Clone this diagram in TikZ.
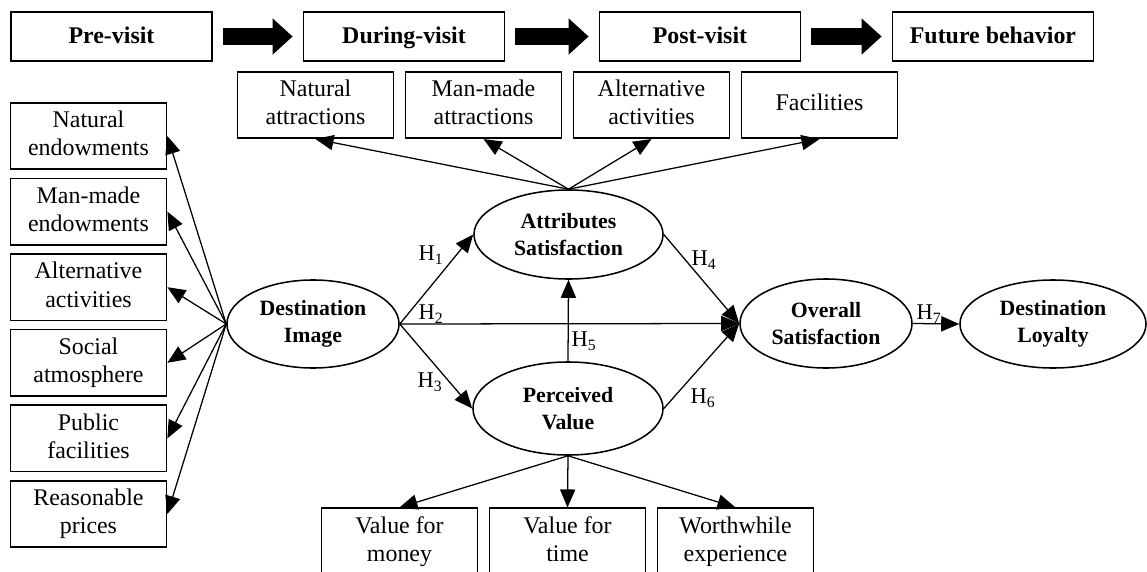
\documentclass[tikz,border=0pt]{standalone}
\usepackage{fontspec}
\setmainfont{Liberation Serif}
\usetikzlibrary{arrows.meta,shapes.geometric}

\tikzset{
	stagebox/.style={draw, line width=1.2pt, minimum width=5.025cm, minimum height=1.225cm, inner sep=0pt, text height=11.5pt, text depth=1pt, font=\fontsize{17}{20}\selectfont\bfseries},
	itembox/.style={draw, line width=1.2pt, minimum width=3.9cm, minimum height=1.66cm, inner sep=0pt, align=center, text depth=3.5pt, font=\fontsize{17}{20}\selectfont},
	construct/.style={draw, ellipse, line width=1.1pt, inner sep=0pt, align=center, font=\fontsize{15.5}{19.6}\selectfont\bfseries},
	link/.style={line width=0.9pt, -{Triangle[length=0.45cm, width=0.38cm]}},
	stagearrow/.style={line width=0.4cm, -{Triangle[length=0.5cm, width=0.875cm]}},
	hyp/.style={inner sep=0pt, font=\fontsize{16}{16}\selectfont},
}

\begin{document}
\begin{tikzpicture}[x=0.025cm, y=-0.025cm]

	\def\stageY{36.5}
	\def\attY{105}
	\def\valY{541.5}
	\def\leftX{88.5}
	\def\dx{168}
	\def\dy{75.6}

	\path[use as bounding box, fill=white] (0,0) rectangle (1147,572);

	% Stages
	\node[stagebox] (pre) at (111.5,\stageY) {Pre-visit};
	\node[stagebox] (during) at (404,\stageY) {During-visit};
	\node[stagebox] (post) at (700,\stageY) {Post-visit};
	\node[stagebox] (future) at (993,\stageY) {Future behavior};

	\foreach \a/\b in {pre/during, during/post, post/future}
		\draw[stagearrow] ([xshift=0.25cm]\a.east) -- ([xshift=-0.25cm]\b.west);

	% Constructs
	\node[construct, minimum width=4.3cm, minimum height=2.2cm] (di) at (313,324) {Destination\\Image};
	\node[construct, minimum width=4.725cm, minimum height=2.225cm] (as) at (568.5,234.5) {Attributes\\Satisfaction};
	\node[construct, minimum width=4.75cm, minimum height=2.325cm] (pv) at (568,408.5) {Perceived\\Value};
	\node[construct, minimum width=4.3cm, minimum height=2.225cm] (os) at (826,323.5) {Overall\\Satisfaction};
	\node[construct, minimum width=4.65cm, minimum height=2.2cm] (dl) at (1053,324) {Destination\\Loyalty};

	% Image items
	\foreach \name/\txt [count=\i from 0] in {natend/{Natural\\endowments}, manend/{Man-made\\endowments},
			altend/{Alternative\\activities}, social/{Social\\atmosphere}, public/{Public\\facilities},
			prices/{Reasonable\\prices}}
	{
		\node[itembox] (\name) at (\leftX, 136 + \i * \dy) {\txt};
		\draw[link] (di.west) -- (\name.east);
	}

	% Attribute items
	\foreach \name/\txt [count=\i from 0] in {natatt/{Natural\\attractions}, manatt/{Man-made\\attractions},
			altatt/{Alternative\\activities}, facil/{Facilities}}
	{
		\node[itembox] (\name) at (315.5 + \i * \dx, \attY) {\txt};
		\draw[link] (as.north) -- (\name.south);
	}

	% Value items
	\foreach \name/\txt [count=\i from 0] in {money/{Value for\\money}, time/{Value for\\time},
			worth/{Worthwhile\\experience}}
	{
		\node[itembox] (\name) at (399.5 + \i * \dx, \valY) {\txt};
		\draw[link] (pv.south) -- (\name.north);
	}

	% Hypotheses
	\draw[link] (di.east) -- (as.west);
	\draw[link] (di.east) -- (os.west);
	\draw[link] (di.east) -- (pv.west);
	\draw[link] (as.east) -- (os.west);
	\draw[link] (pv.north) -- (as.south);
	\draw[link] (pv.east) -- (os.west);
	\draw[link] (os.east) -- (dl.west);

	\node[hyp] (h1) at (431,255) {H\textsubscript{1}};
	\node[hyp] (h2) at (431,314) {H\textsubscript{2}};
	\node[hyp] (h3) at (430,382) {H\textsubscript{3}};
	\node[hyp] (h4) at (704,260) {H\textsubscript{4}};
	\node[hyp] (h5) at (584,341) {H\textsubscript{5}};
	\node[hyp] (h6) at (703,398) {H\textsubscript{6}};
	\node[hyp] (h7) at (929,314) {H\textsubscript{7}};

\end{tikzpicture}
\end{document}
